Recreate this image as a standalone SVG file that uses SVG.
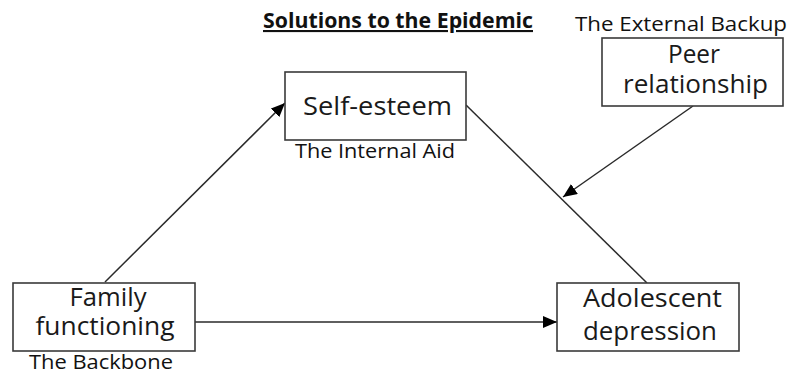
<svg xmlns="http://www.w3.org/2000/svg" width="804" height="374" viewBox="0 0 804 374">
<style>
.box{fill:#fff;stroke:#3a3a3a;stroke-width:1.6}
.t{font-family:"Open Sans","Noto Sans",sans-serif;font-size:25px;fill:#1a1a1a;text-anchor:middle}
.lab{font-family:"Open Sans","Noto Sans",sans-serif;font-size:20px;fill:#111;text-anchor:middle}
.title{font-family:"Open Sans","Noto Sans",sans-serif;font-size:21px;font-weight:bold;fill:#111;text-decoration:underline}
.c{stroke:#2a2a2a;stroke-width:1.5;fill:none}
</style>
<defs>
<marker id="ah" viewBox="0 0 14 12" refX="14" refY="6" markerWidth="14" markerHeight="12" markerUnits="userSpaceOnUse" orient="auto">
<path d="M0,0 L14,6 L0,12 Z" fill="#000"/>
</marker>
</defs>
<text class="title" x="263" y="28" textLength="270" lengthAdjust="spacingAndGlyphs">Solutions to the Epidemic</text>
<g id="connectors">
<line class="c" x1="105" y1="282" x2="285" y2="103" marker-end="url(#ah)"/>
<line class="c" x1="195" y1="322" x2="557" y2="322" marker-end="url(#ah)"/>
<line class="c" x1="466" y1="105" x2="647" y2="283"/>
<line class="c" x1="693" y1="106" x2="563" y2="197" marker-end="url(#ah)"/>
</g>
<g id="self-esteem">
<rect class="box" x="285" y="72" width="181" height="68"/>
<text class="t" x="377.5" y="115" textLength="149" lengthAdjust="spacingAndGlyphs">Self-esteem</text>
<text class="lab" x="375" y="158" textLength="160" lengthAdjust="spacingAndGlyphs">The Internal Aid</text>
</g>
<g id="peer-relationship">
<rect class="box" x="602" y="38" width="181" height="68"/>
<text class="t"><tspan x="694" y="63" textLength="52" lengthAdjust="spacingAndGlyphs">Peer</tspan><tspan x="695.5" y="93" textLength="145" lengthAdjust="spacingAndGlyphs">relationship</tspan></text>
<text class="lab" x="681" y="31" textLength="212" lengthAdjust="spacingAndGlyphs">The External Backup</text>
</g>
<g id="family-functioning">
<rect class="box" x="13" y="283" width="182" height="68"/>
<text class="t"><tspan x="108" y="306" textLength="77" lengthAdjust="spacingAndGlyphs">Family</tspan><tspan x="105" y="335" textLength="139" lengthAdjust="spacingAndGlyphs">functioning</tspan></text>
<text class="lab" x="101" y="369" textLength="144" lengthAdjust="spacingAndGlyphs">The Backbone</text>
</g>
<g id="adolescent-depression">
<rect class="box" x="557" y="283" width="182" height="68"/>
<text class="t"><tspan x="652.5" y="307" textLength="139" lengthAdjust="spacingAndGlyphs">Adolescent</tspan><tspan x="650" y="340" textLength="134" lengthAdjust="spacingAndGlyphs">depression</tspan></text>
</g>
</svg>
